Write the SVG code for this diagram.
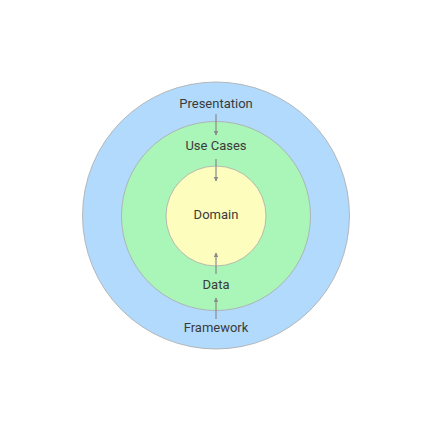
<svg xmlns="http://www.w3.org/2000/svg" width="432" height="432" viewBox="0 0 432 432">
<style>
.c{stroke:#aaaaaa;stroke-width:0.8}
.t{font-family:Roboto,"Liberation Sans",sans-serif;font-size:13px;fill:#3a3a3a;text-anchor:middle}
.a{stroke:#8a8a8a;stroke-width:1.2;fill:none;marker-end:url(#ah)}
</style>
<defs>
<marker id="ah" viewBox="0 0 10 10" refX="9" refY="5" markerWidth="7" markerHeight="4.5" orient="auto" markerUnits="userSpaceOnUse">
<path d="M0,0 L10,5 L0,10 z" fill="#8a8a8a"/>
</marker>
</defs>
<rect width="432" height="432" fill="#ffffff"/>
<g id="framework"><circle class="c" cx="216" cy="215.5" r="133.5" fill="#b2dafc"/></g>
<g id="usecases-ring"><circle class="c" cx="216" cy="216" r="94.5" fill="#aaf5b8"/></g>
<g id="domain"><circle class="c" cx="216" cy="216" r="50" fill="#fdfdbe"/><text class="t" x="216" y="219">Domain</text></g>
<g id="presentation"><text class="t" x="216" y="108">Presentation</text></g>
<g id="usecases"><text class="t" x="216" y="150">Use Cases</text></g>
<g id="data"><text class="t" x="216" y="289">Data</text></g>
<g id="frameworklabel"><text class="t" x="216" y="332">Framework</text></g>
<g id="connectors">
<line class="a" x1="216" y1="114" x2="216" y2="135"/>
<line class="a" x1="216" y1="159" x2="216" y2="181"/>
<line class="a" x1="216" y1="274" x2="216" y2="253"/>
<line class="a" x1="216" y1="319" x2="216" y2="298"/>
</g>
</svg>
